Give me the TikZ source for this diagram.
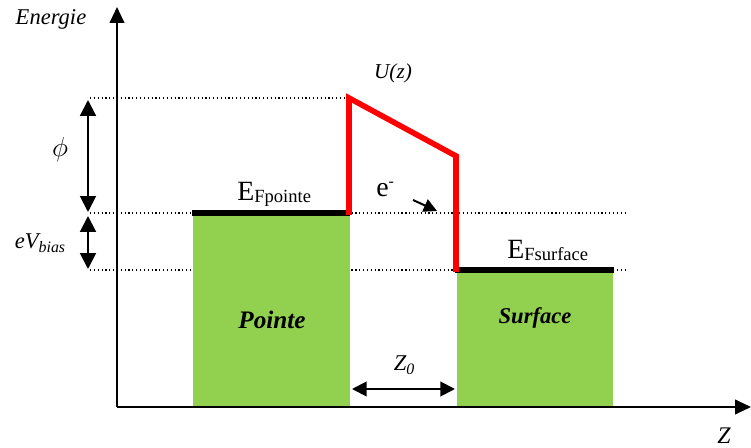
\documentclass[tikz,border=0pt]{standalone}
\usepackage{fontspec}
\setmainfont{Liberation Serif}
\usepackage{xcolor}
\usetikzlibrary{positioning, arrows.meta}

\definecolor{metalgreen}{HTML}{92D050}

\begin{document}
\begin{tikzpicture}[
    x=0.0265cm, y=-0.0265cm,
    axis/.style={line width=1.5pt, -{Triangle[length=12pt, width=11pt]}},
    level/.style={line width=0.9pt, dash pattern=on 0.9pt off 2pt},
    fermi/.style={line width=4pt},
    barrier/.style={red, line width=4.2pt, line join=miter},
    metal/.style={fill=metalgreen, draw=none},
    gap/.style={line width=1.5pt, {Triangle[length=12pt, width=12pt]}-{Triangle[length=12pt, width=12pt]}},
    label/.style={inner sep=0pt, font=\fontsize{16}{18}\selectfont\itshape}
]

\useasboundingbox (0,0) rectangle (751,448);

% reference levels
\coordinate (vac_l) at (90,98);
\coordinate (vac_r) at (348,98);
\coordinate (ftip_l) at (90,213);
\coordinate (ftip_r) at (625,213);
\coordinate (fsurf_l) at (90,270);
\coordinate (fsurf_r) at (628,270);
\draw[level] (vac_l) -- (vac_r);
\draw[level] (ftip_l) -- (ftip_r);
\draw[level] (fsurf_l) -- (fsurf_r);

% the two metals
\fill[metal] (193,213) rectangle (350,407);
\fill[metal] (457,270) rectangle (613,407);
\node[label, font=\fontsize{19}{21}\selectfont\bfseries\itshape] (pointe) at (272,320) {Pointe};
\node[label, font=\fontsize{17}{19}\selectfont\bfseries\itshape] (surface) at (535,318) {Surface};

% Fermi levels
\coordinate (ep_a) at (192,213);
\coordinate (ep_b) at (350,213);
\coordinate (es_a) at (455,270);
\coordinate (es_b) at (614,270);
\draw[fermi] (ep_a) -- (ep_b);
\draw[fermi] (es_a) -- (es_b);
\node[inner sep=0pt, anchor=base west, font=\fontsize{21}{23}\selectfont] (efp) at (237,201)
    {E\raisebox{-1.5pt}{\fontsize{14}{16}\selectfont Fpointe}};
\node[inner sep=0pt, anchor=base west, font=\fontsize{21}{23}\selectfont] (efs) at (507,259)
    {E\raisebox{-1.5pt}{\fontsize{14}{16}\selectfont Fsurface}};

% potential barrier
\coordinate (u1) at (349,215);
\coordinate (u2) at (349,98);
\coordinate (u3) at (456,156);
\coordinate (u4) at (456,272);
\draw[barrier] (u1) -- (u2) -- (u3) -- (u4);
\node[label] (uz) at (393,73) {U(z)};

% tunnelling electron
\node[inner sep=0pt, anchor=base west, font=\fontsize{21}{23}\selectfont] (elec) at (376,197)
    {e\raisebox{8pt}{\fontsize{12}{14}\selectfont -}};
\coordinate (el_a) at (413,200);
\coordinate (el_b) at (437,211);
\draw[line width=1.5pt, -{Triangle[length=10pt, width=10pt]}] (el_a) -- (el_b);

% axes
\coordinate (origin) at (117,407);
\coordinate (e_top) at (117,7);
\coordinate (z_end) at (751,407);
\draw[axis] (origin) -- (e_top);
\draw[axis] (origin) -- (z_end);
\node[label, font=\fontsize{17}{19}\selectfont\itshape] (energie) at (51,19) {Energie};
\node[label, font=\fontsize{18}{20}\selectfont\itshape] (zlab) at (724,436) {Z};

% work function and bias
\coordinate (phi_a) at (88,100);
\coordinate (phi_b) at (88,212);
\coordinate (bias_a) at (88,216);
\coordinate (bias_b) at (88,269);
\draw[gap] (phi_a) -- (phi_b);
\draw[gap] (bias_a) -- (bias_b);
\node[inner sep=0pt, font=\fontsize{20}{22}\selectfont] (phi) at (60,150) {$\phi$};
\node[label, font=\fontsize{17}{19}\selectfont\itshape] (ebias) at (40,243) {eV\raisebox{-3pt}{\fontsize{12}{14}\selectfont\itshape bias}};

% tip-sample distance
\coordinate (z0_a) at (352,389);
\coordinate (z0_b) at (455,389);
\draw[gap, {Triangle[length=11pt, width=11pt]}-{Triangle[length=11pt, width=11pt]}] (z0_a) -- (z0_b);
\node[label, font=\fontsize{17}{19}\selectfont\itshape] (z0) at (404,365) {Z\raisebox{-3pt}{\fontsize{12}{14}\selectfont\itshape 0}};

\end{tikzpicture}
\end{document}
